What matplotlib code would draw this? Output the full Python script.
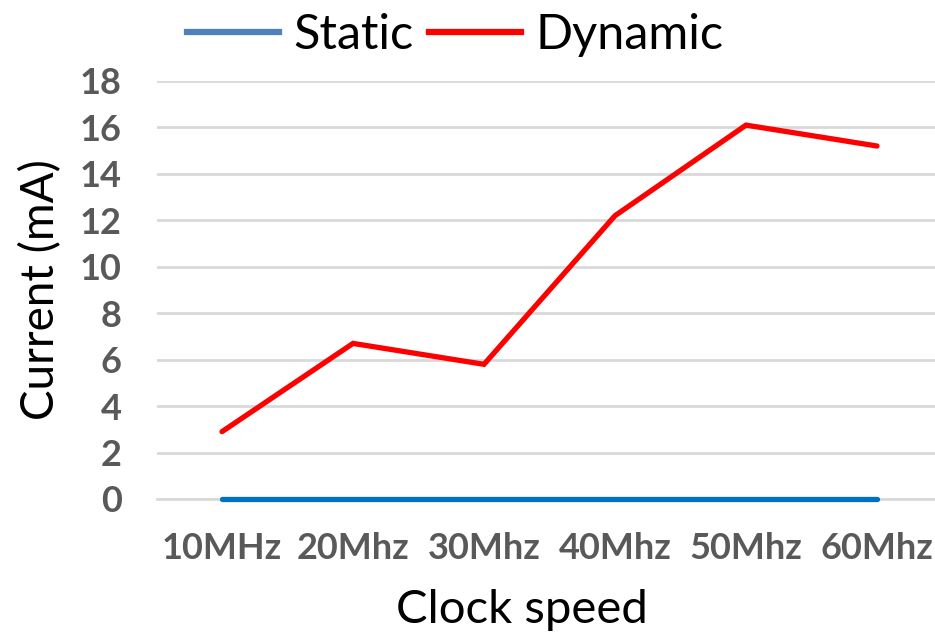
import matplotlib.pyplot as plt
from matplotlib.lines import Line2D

# data
clock = ["10MHz", "20Mhz", "30Mhz", "40Mhz", "50Mhz", "60Mhz"]
static = [0, 0, 0, 0, 0, 0]
dynamic = [2.9, 6.7, 5.8, 12.2, 16.1, 15.2]
yticks = [0, 2, 4, 6, 8, 10, 12, 14, 16, 18]

plt.rcParams['font.family'] = ['Lato', 'DejaVu Sans']

fig = plt.figure(figsize=(9.35, 6.35), dpi=100)
ax = fig.add_axes([156.5 / 935, 136 / 635, 786 / 935, 418 / 635])

x = list(range(len(clock)))
ax.plot(x, static, color="#0070C0", lw=3.8, solid_capstyle="round",
        clip_on=False, zorder=5)
ax.plot(x, dynamic, color="#FF0000", lw=3.8, solid_capstyle="round",
        solid_joinstyle="miter", zorder=4)

ax.set_xlim(-0.5, len(clock) - 0.5)
ax.set_ylim(0, 18)
ax.set_yticks(yticks)
ax.set_xticks(x)
ax.set_xticklabels(clock)
ax.yaxis.grid(True, color="#D9D9D9", lw=2)
ax.set_axisbelow(True)
for s in ["top", "right", "left"]:
    ax.spines[s].set_visible(False)
ax.spines["bottom"].set_color("#D9D9D9")
ax.spines["bottom"].set_linewidth(2)
ax.tick_params(length=0, labelsize=26, labelcolor="#595959")
ax.tick_params(axis="y", pad=25)
ax.tick_params(axis="x", pad=24)
for t in ax.get_xticklabels() + ax.get_yticklabels():
    t.set_fontweight("bold")

ax.set_xlabel("Clock speed", fontsize=34)
ax.xaxis.set_label_coords(0.465, -0.215)
ax.set_ylabel("Current (mA)", fontsize=33, labelpad=13)

handles = [Line2D([], [], color="#4F81BD", lw=4.5),
           Line2D([], [], color="#FF0000", lw=4.5)]
ax.legend(handles, ["Static", "Dynamic"], loc="center", bbox_to_anchor=(0.38, 1.11),
          ncol=2, frameon=False, fontsize=35, handlelength=1.9, handletextpad=0.3,
          columnspacing=0.3)

fig.savefig("out.png", dpi=100)
